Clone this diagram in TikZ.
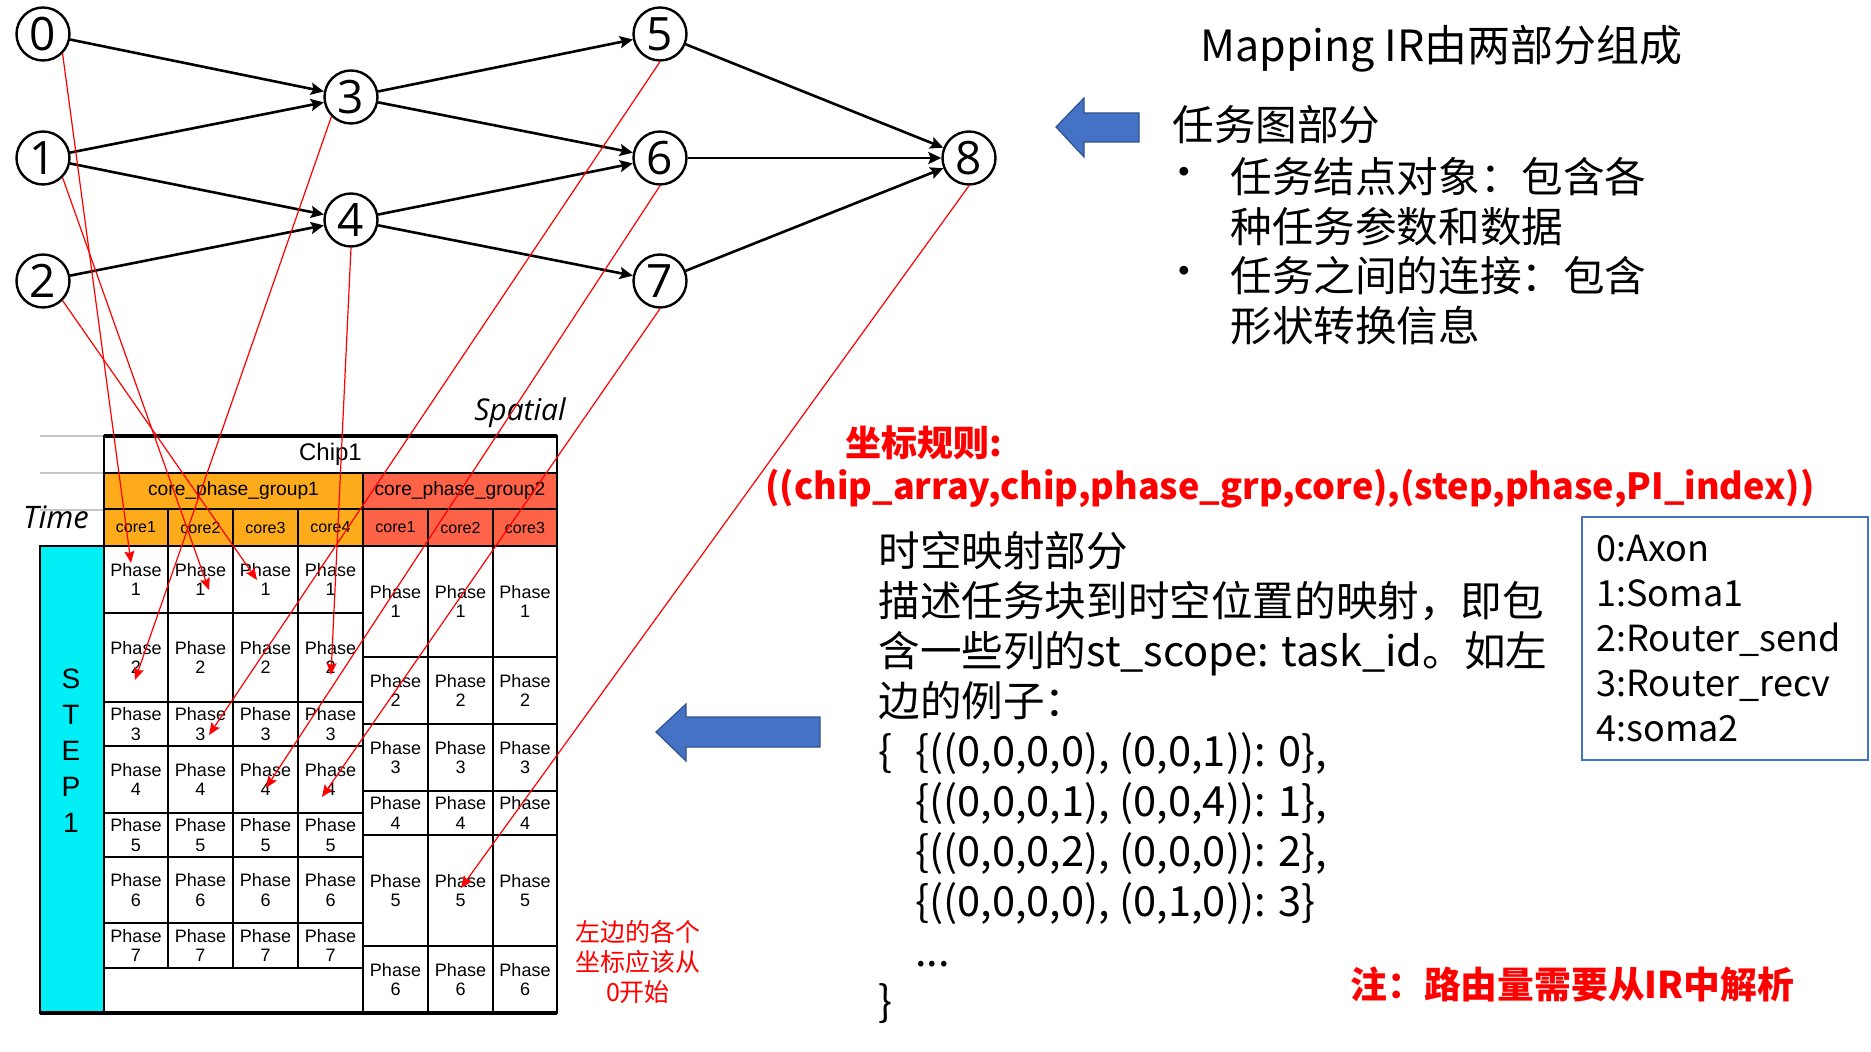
\documentclass[tikz,border=0pt]{standalone}
\usepackage{fontspec}
\setmainfont{Liberation Sans}
\newfontfamily\cjk{Noto Sans CJK SC}
\newfontfamily\osans{Open Sans}
\usetikzlibrary{arrows.meta}
\definecolor{grpA}{RGB}{253,171,26}
\definecolor{grpB}{RGB}{255,99,71}
\definecolor{stepcyan}{RGB}{0,238,246}
\definecolor{officeblue}{RGB}{68,114,196}
\definecolor{officeblueb}{RGB}{47,82,143}
\newcommand\mkcell[7]{%
  \pgfmathsetmacro\mkcw{(#5-#3)*0.5}%
  \pgfmathsetmacro\mkch{(#6-#4)*0.5}%
  \node[tcell,#1,minimum width=\mkcw pt,minimum height=\mkch pt] (#2) at ({(#3+#5)/2},{(#4+#6)/2}) {#7};%
}
\begin{document}
\begin{tikzpicture}[x=0.5pt,y=-0.5pt,
  gnode/.style={circle,draw,line width=1.2pt,minimum size=26.5pt,inner sep=0pt,font=\osans\fontsize{23}{23}\selectfont},
  garrow/.style={line width=1.3pt,-{Stealth[length=6.5pt,width=6pt,inset=1.2pt]}},
  redarrow/.style={draw=red,line width=0.6pt,-{Stealth[length=6pt,width=5pt,inset=1pt]}},
  tcell/.style={draw,line width=1.3pt,inner sep=0pt,align=center,font=\fontsize{9}{9.8}\selectfont},
  cjktext/.style={inner sep=0pt,align=left,font=\cjk\fontsize{20.8}{25}\selectfont},
  rednote/.style={inner sep=0pt,text=red,font=\cjk\bfseries\fontsize{18}{22}\selectfont},
  blueshape/.style={fill=officeblue,draw=officeblueb,line width=0.6pt}
]
\useasboundingbox (0,0) rectangle (1871,1052);

% ---------- table ----------
\draw[gray!45,line width=0.6pt] (40,436) -- (104,436);
\draw[gray!45,line width=0.6pt] (40,473) -- (104,473);
\draw[gray!45,line width=0.6pt] (40,510) -- (104,510);

\mkcell{fill=stepcyan}{stepcell}{40}{546}{104}{1013}{}
\node[inner sep=0pt,align=center,font=\fontsize{14}{18}\selectfont] (steplbl) at (71,751) {S\\T\\E\\P\\1};

\mkcell{font=\fontsize{12}{12}\selectfont}{chip}{104}{436}{557}{473}{Chip1}
\mkcell{fill=grpA,font=\fontsize{9.6}{11}\selectfont}{grpa}{104}{473}{363}{509}{core\_phase\_group1}
\mkcell{fill=grpB,font=\fontsize{9.6}{11}\selectfont}{grpb}{363}{473}{557}{509}{core\_phase\_group2}
\foreach \c/\xa/\xb in {1/104/168,2/168/233,3/233/298,4/298/363}{
  \mkcell{fill=grpA,font=\fontsize{8}{9}\selectfont}{ca\c}{\xa}{509}{\xb}{546}{core\c}
}
\foreach \c/\xa/\xb in {1/363/428,2/428/493,3/493/557}{
  \mkcell{fill=grpB,font=\fontsize{8}{9}\selectfont}{cb\c}{\xa}{509}{\xb}{546}{core\c}
}
\foreach \r/\ya/\yb in {1/546/613,2/613/702,3/702/746,4/746/813,5/813/857,6/857/923,7/923/968}{
  \foreach \c/\xa/\xb in {1/104/168,2/168/233,3/233/298,4/298/363}{
    \mkcell{}{ga\c-\r}{\xa}{\ya}{\xb}{\yb}{Phase\\\r}
  }
}
\foreach \r/\ya/\yb in {1/546/657,2/657/724,3/724/791,4/791/835,5/835/946,6/946/1013}{
  \foreach \c/\xa/\xb in {1/363/428,2/428/493,3/493/557}{
    \mkcell{}{gb\c-\r}{\xa}{\ya}{\xb}{\yb}{Phase\\\r}
  }
}
\mkcell{}{gaempty}{104}{968}{363}{1013}{}
\draw[line width=2pt] (104,436) -- (557,436);
\draw[line width=2pt] (40,1013) -- (557,1013);

\node[inner sep=0pt,font=\osans\itshape\fontsize{15.5}{16}\selectfont] (timelbl) at (56,517) {Time};
\node[inner sep=0pt,font=\osans\itshape\fontsize{15}{16}\selectfont] (spatlbl) at (520,413) {Spatial};

% ---------- task graph ----------
\node[gnode] (n0) at (43,34) {0};
\node[gnode] (n1) at (43,158) {1};
\node[gnode] (n2) at (43,281) {2};
\node[gnode] (n3) at (351,97) {3};
\node[gnode] (n4) at (351,220) {4};
\node[gnode] (n5) at (660,34) {5};
\node[gnode] (n6) at (660,158) {6};
\node[gnode] (n7) at (660,281) {7};
\node[gnode] (n8) at (969,158) {8};
\draw[garrow] (n0) -- (n3);
\draw[garrow] (n1) -- (n3);
\draw[garrow] (n1) -- (n4);
\draw[garrow] (n2) -- (n4);
\draw[garrow] (n3) -- (n5);
\draw[garrow] (n3) -- (n6);
\draw[garrow] (n4) -- (n6);
\draw[garrow] (n4) -- (n7);
\draw[garrow] (n5) -- (n8);
\draw[garrow] (n6) -- (n8);
\draw[garrow] (n7) -- (n8);

% ---------- mapping arrows ----------
\coordinate (t0) at (131,563);
\coordinate (t1) at (209,590);
\coordinate (t2) at (257,580);
\coordinate (t3) at (135,680);
\coordinate (t4) at (331,675);
\coordinate (t5) at (209,735);
\coordinate (t6) at (266,788);
\coordinate (t7) at (322,797);
\coordinate (t8) at (461,888);
\draw[redarrow] (n0.south east) -- (t0);
\draw[redarrow] (n1.south east) -- (t1);
\draw[redarrow] (n2.south east) -- (t2);
\draw[redarrow] (n3.south west) -- (t3);
\draw[redarrow] (n4.south) -- (t4);
\draw[redarrow] (n5.south) -- (t5);
\draw[redarrow] (n6.south) -- (t6);
\draw[redarrow] (n7.south) -- (t7);
\draw[redarrow] (n8.south) -- (t8);

% ---------- right side text ----------
\node[cjktext,anchor=west,font=\cjk\fontsize{21.5}{25}\selectfont] (title) at (1200,49) {Mapping IR由两部分组成};
\filldraw[blueshape] (1056,127) -- (1084,98) -- (1084,113) -- (1139,113) -- (1139,142) -- (1084,142) -- (1084,157) -- cycle;
\node[cjktext,anchor=west] (taskhdr) at (1172,125) {任务图部分};
\node[cjktext] (bul1) at (1184,177) {•};
\node[cjktext,anchor=west] (bt1) at (1230,202) {任务结点对象：包含各\\种任务参数和数据};
\node[cjktext] (bul2) at (1184,276) {•};
\node[cjktext,anchor=west] (bt2) at (1230,301) {任务之间的连接：包含\\形状转换信息};

\node[rednote] (rulehdr) at (924,443) {坐标规则:};
\node[rednote,font=\cjk\bfseries\fontsize{18}{22}\selectfont] (rule) at (1290,489) {((chip\_array,chip,phase\_grp,core),(step,phase,PI\_index))};

\filldraw[blueshape] (656,732) -- (686,704) -- (686,717) -- (820,717) -- (820,747) -- (686,747) -- (686,761) -- cycle;
\node[cjktext,anchor=west] (stmap) at (878,777) {时空映射部分\\
描述任务块到时空位置的映射，即包\\
含一些列的st\_scope: task\_id。如左\\
边的例子：\\
\makebox[18.5pt][l]{\{}\{((0,0,0,0), (0,0,1)): 0\},\\
\hspace*{18.5pt}\{((0,0,0,1), (0,0,4)): 1\},\\
\hspace*{18.5pt}\{((0,0,0,2), (0,0,0)): 2\},\\
\hspace*{18.5pt}\{((0,0,0,0), (0,1,0)): 3\}\\
\hspace*{18.5pt}...\\
\}};

\node[draw=officeblue,line width=1pt,minimum width=143pt,minimum height=121.5pt,inner sep=0pt] (legend) at (1725,638.5) {};
\node[cjktext,anchor=west,font=\cjk\fontsize{18}{22.5}\selectfont] (legendtxt) at (1596,638.5) {0:Axon\\1:Soma1\\2:Router\_send\\3:Router\_recv\\4:soma2};

\node[inner sep=0pt,align=center,text=red,font=\cjk\fontsize{12.5}{15}\selectfont] (zeronote) at (638,962) {左边的各个\\坐标应该从\\0开始};
\node[rednote,anchor=west,font=\cjk\bfseries\fontsize{18.4}{22}\selectfont] (routenote) at (1350,984) {注：路由量需要从IR中解析};
\end{tikzpicture}
\end{document}
